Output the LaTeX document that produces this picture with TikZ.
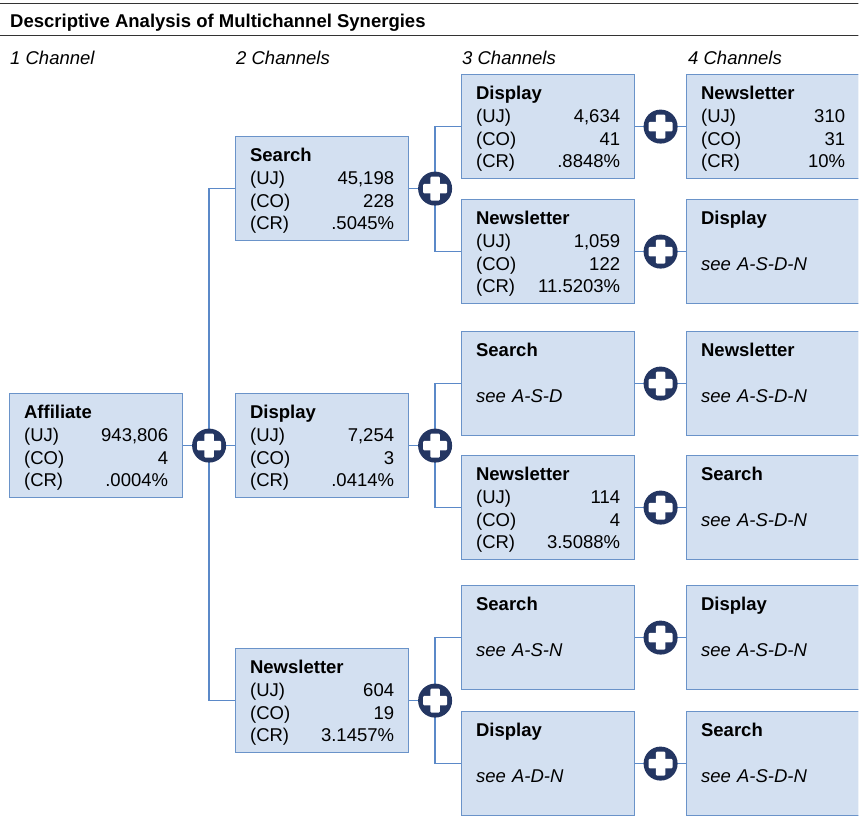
\documentclass[tikz,border=0pt]{standalone}
\usepackage{fontspec}
\setmainfont{Liberation Sans}
\usetikzlibrary{calc}
\definecolor{boxfill}{HTML}{D3E0F1}
\definecolor{boxline}{HTML}{6A93C9}
\definecolor{linkblue}{HTML}{5B89C8}
\definecolor{plusnavy}{HTML}{243662}
\definecolor{rulegray}{HTML}{333333}

\begin{document}
\begin{tikzpicture}[x=1pt,y=-1pt]
\tikzset{
    chbox/.style={%
        draw=boxline, fill=boxfill, line width=1.2pt,
        rectangle, anchor=north west,
        minimum width=173pt, minimum height=104pt,
        text width=144pt, align=left,
        inner xsep=14.5pt, inner ysep=11pt,
        text height=14pt, text depth=68pt,
        font=\fontsize{18.5}{22.7}\selectfont
        },
    plus/.style={%
        circle, fill=plusnavy,
        minimum size=34pt, inner sep=0pt,
        path picture={
            \fill[white, rounded corners=1pt]
                ([xshift=-12pt,yshift=-4.7pt]path picture bounding box.center)
                rectangle ([xshift=12pt,yshift=4.7pt]path picture bounding box.center);
            \fill[white, rounded corners=1pt]
                ([xshift=-4.7pt,yshift=-12pt]path picture bounding box.center)
                rectangle ([xshift=4.7pt,yshift=12pt]path picture bounding box.center);
            }
        },
    link/.style={draw=linkblue, line width=1.3pt},
    rule/.style={draw=rulegray, line width=1pt},
    head/.style={%
        anchor=base west, inner sep=0pt,
        font=\fontsize{18.5}{22}\selectfont\itshape
        },
}
\useasboundingbox (0,0) rectangle (859,817);
\begin{scope}
\clip (0,0) rectangle (858.3,817);
%%%TITLE
\draw[rule] (0,3) -- (859,3);
\node[anchor=base west, inner sep=0pt, font=\fontsize{18.5}{22}\selectfont\bfseries] (title) at (10,27) {Descriptive Analysis of Multichannel Synergies};
\draw[rule] (0,35) -- (859,35);
\node[head] (h1) at (10,64) {1 Channel};
\node[head] (h2) at (236,64) {2 Channels};
\node[head] (h3) at (462,64) {3 Channels};
\node[head] (h4) at (688,64) {4 Channels};
%%%ONE CHANNEL
\node[chbox] (aff) at (9,393) {\textbf{Affiliate}\\(UJ)\hfill 943,806\\(CO)\hfill 4\\(CR)\hfill .0004\%};
%%%TWO CHANNELS
\node[chbox] (c2s) at (235,136) {\textbf{Search}\\(UJ)\hfill 45,198\\(CO)\hfill 228\\(CR)\hfill .5045\%};
\node[chbox] (c2d) at (235,393) {\textbf{Display}\\(UJ)\hfill 7,254\\(CO)\hfill 3\\(CR)\hfill .0414\%};
\node[chbox] (c2n) at (235,648) {\textbf{Newsletter}\\(UJ)\hfill 604\\(CO)\hfill 19\\(CR)\hfill 3.1457\%};
%%%THREE CHANNELS
\node[chbox] (c3a) at (461,74) {\textbf{Display}\\(UJ)\hfill 4,634\\(CO)\hfill 41\\(CR)\hfill .8848\%};
\node[chbox] (c3b) at (461,199) {\textbf{Newsletter}\\(UJ)\hfill 1,059\\(CO)\hfill 122\\(CR)\hfill 11.5203\%};
\node[chbox] (c3c) at (461,331) {\textbf{Search}\\[22.7pt]\textit{see A-S-D}};
\node[chbox] (c3d) at (461,455) {\textbf{Newsletter}\\(UJ)\hfill 114\\(CO)\hfill 4\\(CR)\hfill 3.5088\%};
\node[chbox] (c3e) at (461,585) {\textbf{Search}\\[22.7pt]\textit{see A-S-N}};
\node[chbox] (c3f) at (461,711) {\textbf{Display}\\[22.7pt]\textit{see A-D-N}};
%%%FOUR CHANNELS
\node[chbox] (c4a) at (686,74) {\textbf{Newsletter}\\(UJ)\hfill 310\\(CO)\hfill 31\\(CR)\hfill 10\%};
\node[chbox] (c4b) at (686,199) {\textbf{Display}\\[22.7pt]\textit{see A-S-D-N}};
\node[chbox] (c4c) at (686,331) {\textbf{Newsletter}\\[22.7pt]\textit{see A-S-D-N}};
\node[chbox] (c4d) at (686,455) {\textbf{Search}\\[22.7pt]\textit{see A-S-D-N}};
\node[chbox] (c4e) at (686,585) {\textbf{Display}\\[22.7pt]\textit{see A-S-D-N}};
\node[chbox] (c4f) at (686,711) {\textbf{Search}\\[22.7pt]\textit{see A-S-D-N}};
%%%JUNCTIONS
\coordinate (j1) at ($(aff.east)!0.5!(c2d.west)$);
\coordinate (j2a) at ($(c2s.east)!0.5!(c3a.west)$);
\coordinate (j2b) at ($(c2d.east)!0.5!(c3c.west)$);
\coordinate (j2c) at ($(c2n.east)!0.5!(c3e.west)$);
\coordinate (j2a) at (j2a |- c2s.east);
\coordinate (j2b) at (j2b |- c2d.east);
\coordinate (j2c) at (j2c |- c2n.east);
%%%CONNECTORS
\draw[link] (aff.east) -- (c2d.west);
\draw[link] (c2s.west) -| (j1) |- (c2n.west);
\draw[link] (c2s.east) -- (j2a);
\draw[link] (c3a.west) -| (j2a) |- (c3b.west);
\draw[link] (c2d.east) -- (j2b);
\draw[link] (c3c.west) -| (j2b) |- (c3d.west);
\draw[link] (c2n.east) -- (j2c);
\draw[link] (c3e.west) -| (j2c) |- (c3f.west);
\draw[link] (c3a.east) -- (c4a.west);
\draw[link] (c3b.east) -- (c4b.west);
\draw[link] (c3c.east) -- (c4c.west);
\draw[link] (c3d.east) -- (c4d.west);
\draw[link] (c3e.east) -- (c4e.west);
\draw[link] (c3f.east) -- (c4f.west);
%%%PLUS SIGNS
\node[plus] (p1) at (j1) {};
\node[plus] (p2a) at (j2a) {};
\node[plus] (p2b) at (j2b) {};
\node[plus] (p2c) at (j2c) {};
\node[plus] (p3a) at ($(c3a.east)!0.5!(c4a.west)$) {};
\node[plus] (p3b) at ($(c3b.east)!0.5!(c4b.west)$) {};
\node[plus] (p3c) at ($(c3c.east)!0.5!(c4c.west)$) {};
\node[plus] (p3d) at ($(c3d.east)!0.5!(c4d.west)$) {};
\node[plus] (p3e) at ($(c3e.east)!0.5!(c4e.west)$) {};
\node[plus] (p3f) at ($(c3f.east)!0.5!(c4f.west)$) {};
\end{scope}
\end{tikzpicture}
\end{document}
